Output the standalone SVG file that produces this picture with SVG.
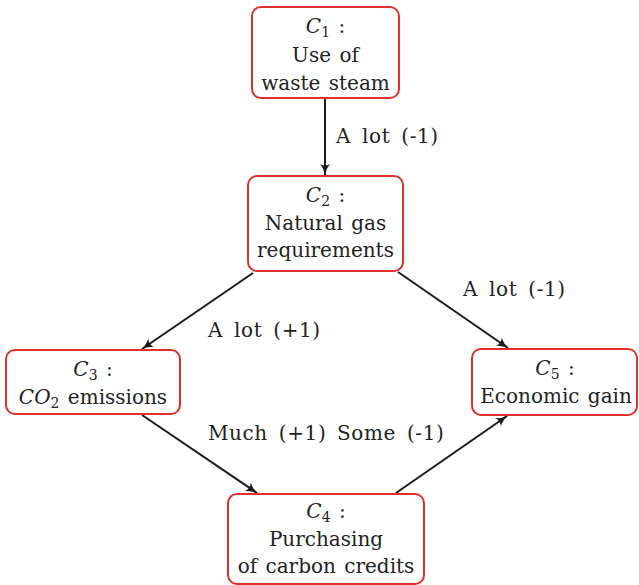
<svg xmlns="http://www.w3.org/2000/svg" width="639" height="585" viewBox="0 0 639 585">
<style>
.box{fill:#fff;stroke:#e0302a;stroke-width:2}
text{font-family:"DejaVu Serif","Liberation Serif",serif;font-size:20px;fill:#222;word-spacing:2px}
.t{text-anchor:middle}
.l{word-spacing:4px;letter-spacing:0.6px}
.e{stroke:#1a1a1a;stroke-width:2;fill:none;marker-end:url(#ah)}
.i{font-style:italic}
</style>
<defs>
<marker id="ah" viewBox="0 0 12 10" refX="11" refY="5" markerWidth="12" markerHeight="10" markerUnits="userSpaceOnUse" orient="auto">
<path d="M0,0 Q5,4 12,5 Q5,6 0,10 Q3,5 0,0 Z" fill="#1a1a1a"/>
</marker>
</defs>
<g id="edges">
<line class="e" x1="325" y1="98" x2="325" y2="175"/>
<line class="e" x1="253" y1="273" x2="142" y2="349"/>
<line class="e" x1="398" y1="272" x2="508" y2="348"/>
<line class="e" x1="142" y1="415" x2="257" y2="493"/>
<line class="e" x1="396" y1="493" x2="507" y2="416"/>
<text class="l" x="336" y="143">A lot (-1)</text>
<text class="l" x="208" y="337">A lot (+1)</text>
<text class="l" x="463" y="296">A lot (-1)</text>
<text class="l" x="208" y="440">Much (+1)</text>
<text class="l" x="337" y="440">Some (-1)</text>
</g>
<g id="C1">
<rect class="box" x="252" y="7" width="147" height="91" rx="9"/>
<text class="t" x="325.5" y="33"><tspan class="i">C</tspan><tspan font-size="14" dy="4">1</tspan><tspan dy="-4"> :</tspan></text>
<text class="t" x="325.5" y="62">Use of</text>
<text class="t" x="325.5" y="90">waste steam</text>
</g>
<g id="C2">
<rect class="box" x="248" y="176" width="155" height="95" rx="9"/>
<text class="t" x="325.5" y="202"><tspan class="i">C</tspan><tspan font-size="14" dy="4">2</tspan><tspan dy="-4"> :</tspan></text>
<text class="t" x="325.5" y="230">Natural gas</text>
<text class="t" x="325.5" y="257">requirements</text>
</g>
<g id="C3">
<rect class="box" x="6" y="350" width="174" height="64" rx="9"/>
<text class="t" x="93" y="376"><tspan class="i">C</tspan><tspan font-size="14" dy="4">3</tspan><tspan dy="-4"> :</tspan></text>
<text class="t" x="93" y="404"><tspan class="i">CO</tspan><tspan font-size="14" dy="4">2</tspan><tspan dy="-4"> emissions</tspan></text>
</g>
<g id="C5">
<rect class="box" x="472" y="349" width="165" height="66" rx="9"/>
<text class="t" x="555" y="375"><tspan class="i">C</tspan><tspan font-size="14" dy="4">5</tspan><tspan dy="-4"> :</tspan></text>
<text class="t" x="556" y="403">Economic gain</text>
</g>
<g id="C4">
<rect class="box" x="228" y="494" width="196" height="90" rx="9"/>
<text class="t" x="326" y="518"><tspan class="i">C</tspan><tspan font-size="14" dy="4">4</tspan><tspan dy="-4"> :</tspan></text>
<text class="t" x="326" y="546">Purchasing</text>
<text class="t" x="326" y="573">of carbon credits</text>
</g>
</svg>
